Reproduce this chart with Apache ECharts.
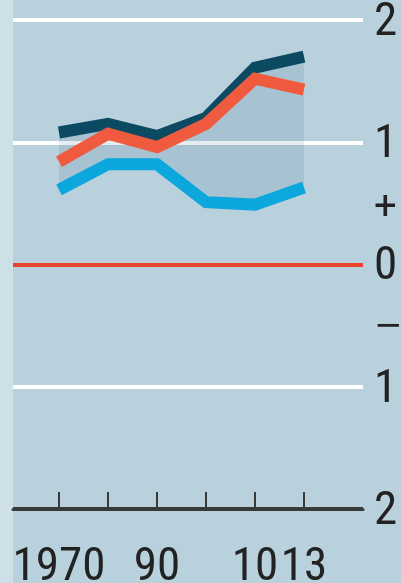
<!DOCTYPE html>
<html>
<head>
<meta charset="utf-8">
<script src="https://cdn.jsdelivr.net/npm/echarts@6/dist/echarts.min.js"></script>
<style>
  html, body { margin: 0; padding: 0; background: #b9d1dd; }
  #chart { width: 401px; height: 583px; }
</style>
</head>
<body>
<div id="chart"></div>
<script>
    // years sit at even steps along the axis
    var years = ['1970', '1980', '1990', '2000', '2010', '2013'];
    var yearLabels = ['1970', '', '90', '', '10', '13'];
    var darkLine = [1.08, 1.15, 1.05, 1.20, 1.61, 1.70];
    var orangeLine = [0.84, 1.07, 0.96, 1.15, 1.52, 1.43];
    var blueLine = [0.61, 0.82, 0.82, 0.51, 0.49, 0.63];
    var yTicks = [-2, -1.5, -1, -0.5, 0, 0.5, 1, 1.5, 2];
    var yLabels = ['2', '', '1', '−', '0', '+', '1', '', '2'];

    // shaded band between dark and light-blue lines
    var gap = darkLine.map(function (v, i) { return +(v - blueLine[i]).toFixed(3); });

    var fontFam = "'Liberation Sans Narrow', 'Roboto Condensed', Roboto, sans-serif";
    var textFont = {fontFamily: fontFam, fontSize: 47, color: '#222'};
    var clear = 'rgba(0,0,0,0)';

    var option = {
        backgroundColor: '#b9d1dd',
        animation: false,
        graphic: [{
            type: 'rect', left: 0, top: 0, z: -1,
            shape: {width: 13, height: 583},
            style: {fill: '#cddfe7'}
        }],
        grid: [
            // frame: grid lines + axis line
            {left: 13, right: 38, top: 20, bottom: 74, outerBoundsMode: 'none', containLabel: false},
            // data
            {left: 59, right: 97, top: 20, bottom: 74, outerBoundsMode: 'none', containLabel: false}
        ],
        xAxis: [
            {
                gridIndex: 0,
                type: 'value', min: 0, max: 1,
                splitLine: {show: false},
                axisTick: {show: false},
                axisLabel: {show: false},
                axisLine: {show: true, onZero: false, lineStyle: {color: '#3a3a3a', width: 3}}
            },
            {
                gridIndex: 1,
                type: 'category',
                boundaryGap: false,
                data: years,
                axisLine: {show: false, onZero: false},
                splitLine: {show: false},
                axisTick: {show: true, inside: true, length: 17, lineStyle: {color: '#3a3a3a', width: 2}},
                axisLabel: Object.assign({
                    margin: 36,
                    interval: 0,
                    formatter: function (v, i) { return yearLabels[i]; }
                }, textFont)
            }
        ],
        yAxis: [
            {
                gridIndex: 0,
                type: 'value',
                position: 'right',
                min: -2,
                max: 2,
                interval: 0.5,
                axisLine: {show: false},
                axisTick: {show: false},
                axisLabel: Object.assign({
                    margin: 11,
                    formatter: function (v) {
                        var k = yTicks.indexOf(v);
                        if (k < 0 || yLabels[k] === '') return '';
                        var s = yLabels[k];
                        var key = s === '+' ? 'p' : (s === '−' ? 'm' : 'n');
                        return '{' + key + '|' + s + '}';
                    },
                    rich: {
                        n: {fontFamily: fontFam, fontSize: 47, color: '#222', padding: [6, 0, 0, 0]},
                        p: {fontFamily: 'Roboto', fontSize: 40, color: '#222', padding: [12, 0, 0, 0]},
                        m: {fontFamily: 'DejaVu Sans', fontSize: 34, color: '#222', padding: [4, 0, 0, 0]}
                    }
                }, textFont),
                splitLine: {
                    show: true,
                    lineStyle: {
                        width: 4,
                        color: ['#3a3a3a', clear, '#ffffff', clear, '#e8412c', clear, '#ffffff', clear, '#ffffff']
                    }
                }
            },
            {
                gridIndex: 1,
                type: 'value', min: -2, max: 2,
                show: false
            }
        ],
        series: [
            {
                type: 'line', xAxisIndex: 1, yAxisIndex: 1, stack: 'band', data: blueLine,
                symbol: 'none', lineStyle: {opacity: 0}, silent: true
            },
            {
                type: 'line', xAxisIndex: 1, yAxisIndex: 1, stack: 'band', data: gap,
                symbol: 'none', lineStyle: {opacity: 0}, silent: true,
                areaStyle: {color: 'rgba(40,90,125,0.12)', opacity: 1}
            },
            {
                name: 'dark', type: 'line', xAxisIndex: 1, yAxisIndex: 1, data: darkLine, symbol: 'none',
                lineStyle: {color: '#0c4a63', width: 12, cap: 'butt', join: 'miter'}
            },
            {
                name: 'blue', type: 'line', xAxisIndex: 1, yAxisIndex: 1, data: blueLine, symbol: 'none',
                lineStyle: {color: '#0ba7dd', width: 12, cap: 'butt', join: 'miter'}
            },
            {
                name: 'orange', type: 'line', xAxisIndex: 1, yAxisIndex: 1, data: orangeLine, symbol: 'none',
                lineStyle: {color: '#f05a3e', width: 12, cap: 'butt', join: 'miter'}
            }
        ]
    };

    var myChart = echarts.init(document.getElementById('chart'));
    myChart.setOption(option);
</script>
</body>
</html>
